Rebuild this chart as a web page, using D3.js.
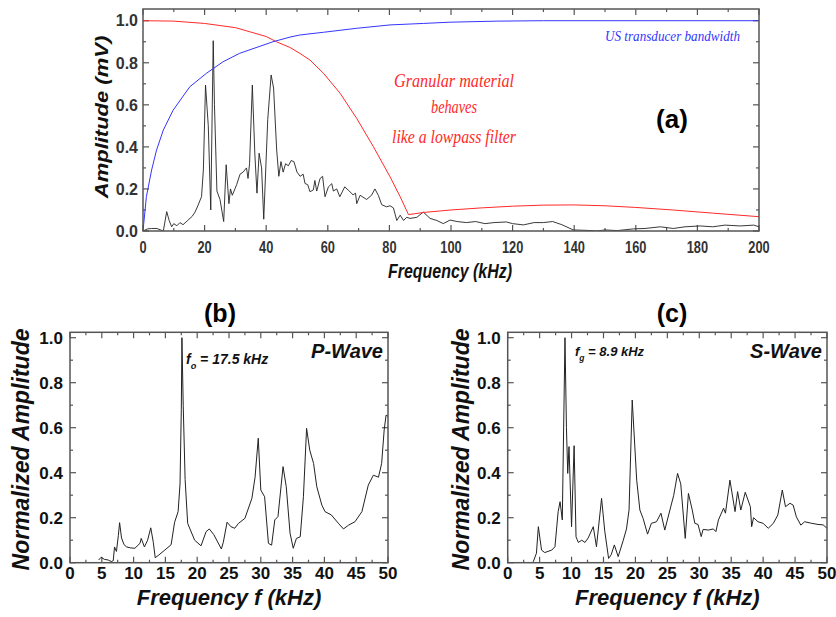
<!DOCTYPE html>
<html><head><meta charset="utf-8">
<script src="https://cdn.jsdelivr.net/npm/d3@7"></script>
<style>body{margin:0;background:#fff}svg{display:block}</style>
</head><body>
<script>
// ---------- DATA ----------
// Panel (a): measured spectrum [kHz, mV]
const specA = [[0,0],[1.5,0.01],[2.8,0.012],[4.5,0.012],[6.6,0.0],[7.7,0.092],[8.5,0.05],[9.3,0.02],[10,0.035],[11,0.025],[12,0.04],[13,0.03],[14.5,0.05],[16,0.07],[16.9,0.09],[17.8,0.12],[19,0.163],[19.6,0.29],[20.3,0.694],[21.2,0.5],[22,0.1],[22.8,0.905],[23.2,0.6],[24,0.19],[25,0.15],[26.2,0.045],[27,0.315],[27.9,0.13],[28.4,0.2],[29,0.17],[30.4,0.22],[31.5,0.27],[32.5,0.28],[33.6,0.3],[34.1,0.25],[34.6,0.32],[35.5,0.694],[36.3,0.37],[37,0.18],[37.7,0.37],[38.5,0.3],[39.2,0.056],[40.5,0.53],[41.6,0.742],[42.4,0.68],[43.4,0.385],[44.1,0.26],[44.8,0.33],[45.5,0.28],[46.3,0.32],[47.2,0.31],[48.1,0.335],[49,0.33],[50,0.28],[51,0.26],[52,0.27],[52.6,0.226],[53.5,0.22],[54.2,0.187],[55.3,0.195],[55.8,0.24],[56.4,0.19],[57.5,0.25],[58.3,0.26],[59.1,0.163],[60.2,0.21],[61.3,0.225],[61.8,0.19],[62.9,0.2],[63.9,0.163],[65.5,0.21],[66.6,0.195],[68.2,0.172],[69,0.18],[69.4,0.13],[70.5,0.17],[72.6,0.15],[74.2,0.17],[75.3,0.2],[76.4,0.17],[77.5,0.125],[79.1,0.115],[80.2,0.12],[81.3,0.11],[82.4,0.05],[83.5,0.075],[84.6,0.05],[85.6,0.065],[86.7,0.06],[88.9,0.065],[91,0.09],[93.2,0.06],[95.4,0.05],[97.5,0.035],[99.7,0.052],[102,0.045],[105,0.04],[108,0.045],[111,0.035],[114,0.04],[118,0.043],[120,0.035],[123.5,0.029],[127,0.04],[130,0.04],[133,0.045],[136,0.03],[139.7,0.005],[144,0.003],[147.3,0],[150,0.005],[154,0.002],[159.2,0.01],[163,0.012],[168,0.02],[172.2,0.012],[176,0.02],[180.9,0.024],[185,0.02],[189,0.028],[193.9,0.024],[198.3,0.028],[200,0.02]];
// Panel (a): lowpass behaviour of granular material (red)
const lowpassA = [[0,1.0],[10,0.998],[20,0.987],[30,0.967],[40,0.925],[43.3,0.9],[47.7,0.873],[50.9,0.845],[54.2,0.813],[58.6,0.75],[64,0.655],[69.4,0.535],[74.8,0.401],[80.2,0.258],[83.5,0.163],[86.2,0.078],[91,0.088],[100,0.1],[110,0.11],[120,0.118],[130,0.123],[140,0.124],[150,0.12],[160,0.112],[172,0.1],[185,0.085],[200,0.068]];
// Panel (a): US transducer bandwidth (blue)
const bandwidthA = [[0,0],[1.1,0.163],[2.8,0.29],[4.4,0.385],[6.6,0.48],[9.8,0.575],[15.2,0.686],[20.6,0.75],[26,0.805],[31.4,0.845],[42.2,0.9],[47.7,0.922],[50.9,0.932],[58.6,0.945],[69.4,0.964],[80.2,0.98],[91,0.987],[99.7,0.993],[115,0.998],[130,1.0],[200,1.0]];
// Panel (b): P-wave normalized spectrum
const pWave = [[4.5,0.012],[4.9,0.024],[5.4,0.015],[6,0.012],[6.5,0.005],[6.8,0.009],[7.0,0.07],[7.3,0.05],[7.6,0.12],[7.8,0.178],[8.1,0.11],[8.5,0.08],[8.9,0.07],[9.5,0.066],[10.2,0.064],[11,0.086],[11.2,0.108],[11.7,0.07],[12.2,0.1],[12.7,0.155],[13.1,0.09],[13.4,0.022],[14,0.035],[14.9,0.056],[15.9,0.08],[16.45,0.18],[17,0.227],[17.3,0.35],[17.5,0.68],[17.6,1.0],[17.8,0.7],[18.1,0.37],[18.5,0.175],[19.6,0.1],[20.6,0.075],[21.4,0.138],[21.9,0.15],[22.6,0.125],[23.8,0.061],[24.1,0.09],[24.7,0.18],[25.3,0.16],[25.9,0.153],[26.5,0.175],[27.5,0.197],[28.6,0.286],[29.1,0.38],[29.6,0.553],[30,0.323],[30.6,0.293],[31.2,0.086],[31.7,0.078],[32.2,0.19],[32.7,0.205],[33.5,0.427],[34,0.338],[34.6,0.131],[35.1,0.064],[35.6,0.108],[36.2,0.115],[36.7,0.293],[37.2,0.597],[37.7,0.5],[38.3,0.441],[38.8,0.338],[39.6,0.256],[40.1,0.227],[41.1,0.212],[42.2,0.175],[43,0.15],[43.8,0.167],[44.8,0.182],[45.9,0.227],[46.9,0.345],[47.7,0.389],[48.5,0.38],[49,0.441],[49.4,0.59],[49.7,0.656],[50,0.65]];
// Panel (c): S-wave normalized spectrum
const sWave = [[4.0,0.004],[4.5,0.042],[4.8,0.16],[5.3,0.056],[5.8,0.045],[6.9,0.056],[7.4,0.071],[7.9,0.227],[8.2,0.271],[8.55,0.19],[8.97,1.0],[9.2,0.6],[9.4,0.397],[9.6,0.516],[10,0.16],[10.4,0.52],[10.7,0.115],[11.06,0.09],[11.6,0.1],[12.1,0.09],[12.6,0.11],[13.4,0.16],[13.9,0.071],[14.7,0.286],[15.2,0.14],[15.8,0.019],[16.2,0.035],[16.7,0.079],[17.3,0.027],[18.1,0.1],[18.6,0.15],[19,0.234],[19.5,0.723],[20.2,0.367],[20.7,0.234],[21.2,0.197],[21.9,0.127],[22.5,0.175],[23.3,0.182],[24,0.22],[24.6,0.145],[25.4,0.234],[26,0.3],[26.6,0.397],[27.1,0.35],[27.8,0.108],[28.3,0.308],[28.9,0.234],[29.3,0.175],[29.8,0.17],[30.3,0.116],[30.6,0.148],[31.4,0.145],[32.2,0.15],[32.6,0.138],[33,0.19],[33.8,0.242],[34.1,0.22],[34.8,0.367],[35.6,0.227],[36,0.316],[36.5,0.234],[37.2,0.313],[38,0.249],[38.2,0.16],[38.5,0.2],[39.2,0.182],[40,0.175],[40.8,0.153],[41.6,0.175],[42.3,0.212],[43,0.323],[43.5,0.249],[44.2,0.264],[44.7,0.256],[45.2,0.204],[45.9,0.167],[46.5,0.182],[47.6,0.175],[48.6,0.17],[49.4,0.168],[50,0.153]];
// Tick values
const ticksAx = [0,20,40,60,80,100,120,140,160,180,200];
const ticksAxMinor = d3.range(10,200,20);
const ticksY = [0,0.2,0.4,0.6,0.8,1.0];
const ticksYMinor = [0.1,0.3,0.5,0.7,0.9];
const ticksBx = [0,5,10,15,20,25,30,35,40,45,50];
const ticksBxMinor = d3.range(2.5,50,5);

// ---------- DRAW ----------
const W = 836, H = 617;
const svg = d3.select("body").append("svg").attr("width", W).attr("height", H);
svg.append("rect").attr("width", W).attr("height", H).attr("fill", "#fff");
const SANS = "'Liberation Sans', Arial, sans-serif";
const SERIF = "'Liberation Serif', 'Times New Roman', serif";

function panel(o) {
  const g = svg.append("g");
  const x = d3.scaleLinear().domain(o.xd).range([o.l, o.r]);
  const y = d3.scaleLinear().domain(o.yd).range([o.b, o.t]);
  const tk = g.append("g").attr("stroke", "#555").attr("stroke-width", 1.2);
  const addX = (vals, len) => vals.forEach(v => {
    tk.append("line").attr("x1", x(v)).attr("x2", x(v)).attr("y1", o.b).attr("y2", o.b - len);
    tk.append("line").attr("x1", x(v)).attr("x2", x(v)).attr("y1", o.t).attr("y2", o.t + len);
  });
  const addY = (vals, len) => vals.forEach(v => {
    tk.append("line").attr("y1", y(v)).attr("y2", y(v)).attr("x1", o.l).attr("x2", o.l + len);
    tk.append("line").attr("y1", y(v)).attr("y2", y(v)).attr("x1", o.r).attr("x2", o.r - len);
  });
  addX(o.xt, 6); addX(o.xtm, 3); addY(ticksY, 6); addY(ticksYMinor, 3);
  const clipId = "clip" + Math.round(o.l);
  svg.append("clipPath").attr("id", clipId).append("rect")
    .attr("x", o.l).attr("y", o.t).attr("width", o.r - o.l).attr("height", o.b - o.t);
  const line = d3.line().x(d => x(d[0])).y(d => y(d[1]));
  o.series.forEach(s => g.append("path").attr("d", line(s.data)).attr("fill", "none")
    .attr("stroke", s.color).attr("stroke-width", s.w || 1).attr("clip-path", `url(#${clipId})`));
  g.append("rect").attr("x", o.l).attr("y", o.t).attr("width", o.r - o.l).attr("height", o.b - o.t)
    .attr("fill", "none").attr("stroke", "#555").attr("stroke-width", 1.5);
  const tl = g.append("g").attr("font-family", SANS).attr("font-weight", "bold")
    .attr("font-size", o.tfs).attr("fill", o.tcol);
  o.xt.forEach(v => {
    const t = tl.append("text").attr("x", x(v)).attr("y", o.xly).attr("text-anchor", "middle")
      .text(d3.format("d")(v));
    if (o.xsq) { const n = t.node().getComputedTextLength(); t.attr("textLength", n * o.xsq).attr("lengthAdjust", "spacingAndGlyphs"); }
  });
  ticksY.forEach(v => tl.append("text").attr("x", o.ylx).attr("y", y(v) + o.tfs * 0.36)
    .attr("text-anchor", "end").text(d3.format(".1f")(v)));
  return {x, y, g};
}

// Panel (a)
panel({xd:[0,200], yd:[0,1.0557], l:143, r:759, t:9, b:231,
  xt: ticksAx, xtm: ticksAxMinor, tfs: 16, tcol:"#333", xly: 253, ylx: 138, xsq: 0.8,
  series:[{data: specA, color:"#222", w:0.9}, {data: lowpassA, color:"#ff2a2a"}, {data: bandwidthA, color:"#3535ff"}]});
svg.append("text").attr("transform", "translate(108,117) scale(0.8,1) rotate(-90)")
  .attr("text-anchor", "middle").attr("font-family", SANS).attr("font-weight", "bold").attr("font-style", "italic")
  .attr("font-size", 22).attr("fill", "#111").text("Amplitude (mV)");
svg.append("text").attr("x", 450).attr("y", 278).attr("text-anchor", "middle").attr("font-family", SANS)
  .attr("font-weight", "bold").attr("font-style", "italic").attr("font-size", 21).attr("fill", "#111")
  .attr("textLength", 124).attr("lengthAdjust", "spacingAndGlyphs").text("Frequency (kHz)");
svg.append("text").attr("x", 672).attr("y", 128).attr("text-anchor", "middle").attr("font-family", SANS)
  .attr("font-weight", "bold").attr("font-size", 26).attr("fill", "#000").text("(a)");
svg.append("text").attr("x", 605).attr("y", 41).attr("font-family", SERIF).attr("font-style", "italic")
  .attr("font-size", 15).attr("fill", "#3535ff").attr("textLength", 135).attr("lengthAdjust", "spacingAndGlyphs")
  .text("US transducer bandwidth");
[["Granular material", 87, 120], ["behaves", 113, 46], ["like a lowpass filter", 143, 124]].forEach(([t, yy, len]) =>
  svg.append("text").attr("x", 454).attr("y", yy).attr("text-anchor", "middle").attr("font-family", SERIF)
    .attr("font-style", "italic").attr("font-size", 18).attr("fill", "#ff2a2a")
    .attr("textLength", len).attr("lengthAdjust", "spacingAndGlyphs").text(t));

// Panel (b) and (c)
function bottom(l, r, data, label, cx, wave, fsub, fval, fx, fy, ytx, ftext) {
  panel({xd:[0,50], yd:[0,1.024], l:l, r:r, t:332.3, b:562.7,
    xt: ticksBx, xtm: ticksBxMinor, tfs: 17, tcol:"#111", xly: 579, ylx: l - 7,
    series:[{data: data, color:"#222"}]});
  svg.append("text").attr("x", cx).attr("y", 322).attr("text-anchor", "middle").attr("font-family", SANS)
    .attr("font-weight", "bold").attr("font-size", 25).attr("fill", "#000").text(label);
  svg.append("text").attr("transform", `translate(${ytx},${(332.3+562.7)/2 + 2}) rotate(-90)`)
    .attr("text-anchor", "middle").attr("font-family", SANS).attr("font-weight", "bold").attr("font-style", "italic")
    .attr("font-size", 23).attr("fill", "#111").text("Normalized Amplitude");
  svg.append("text").attr("x", (l + r) / 2).attr("y", 605).attr("text-anchor", "middle").attr("font-family", SANS)
    .attr("font-weight", "bold").attr("font-style", "italic").attr("font-size", 22).attr("fill", "#111")
    .text("Frequency f (kHz)");
  svg.append("text").attr("x", r - 5).attr("y", 358).attr("text-anchor", "end").attr("font-family", SANS)
    .attr("font-weight", "bold").attr("font-style", "italic").attr("font-size", 20).attr("fill", "#111").text(wave);
  const ft = svg.append("text").attr("x", fx).attr("y", fy).attr("font-family", SANS)
    .attr("font-weight", "bold").attr("font-style", "italic").attr("font-size", fval).attr("fill", "#111");
  ft.append("tspan").text("f");
  ft.append("tspan").attr("dy", 5).attr("font-size", fval * 0.65).text(fsub);
  ft.append("tspan").attr("dy", -5).text(ftext);
}
bottom(70, 388, pWave, "(b)", 220, "P-Wave", "o", 14, 186, 364, 29, " = 17.5 kHz");
bottom(507.7, 827, sWave, "(c)", 672, "S-Wave", "g", 13, 575, 356, 469, " = 8.9 kHz");
</script>
</body></html>
